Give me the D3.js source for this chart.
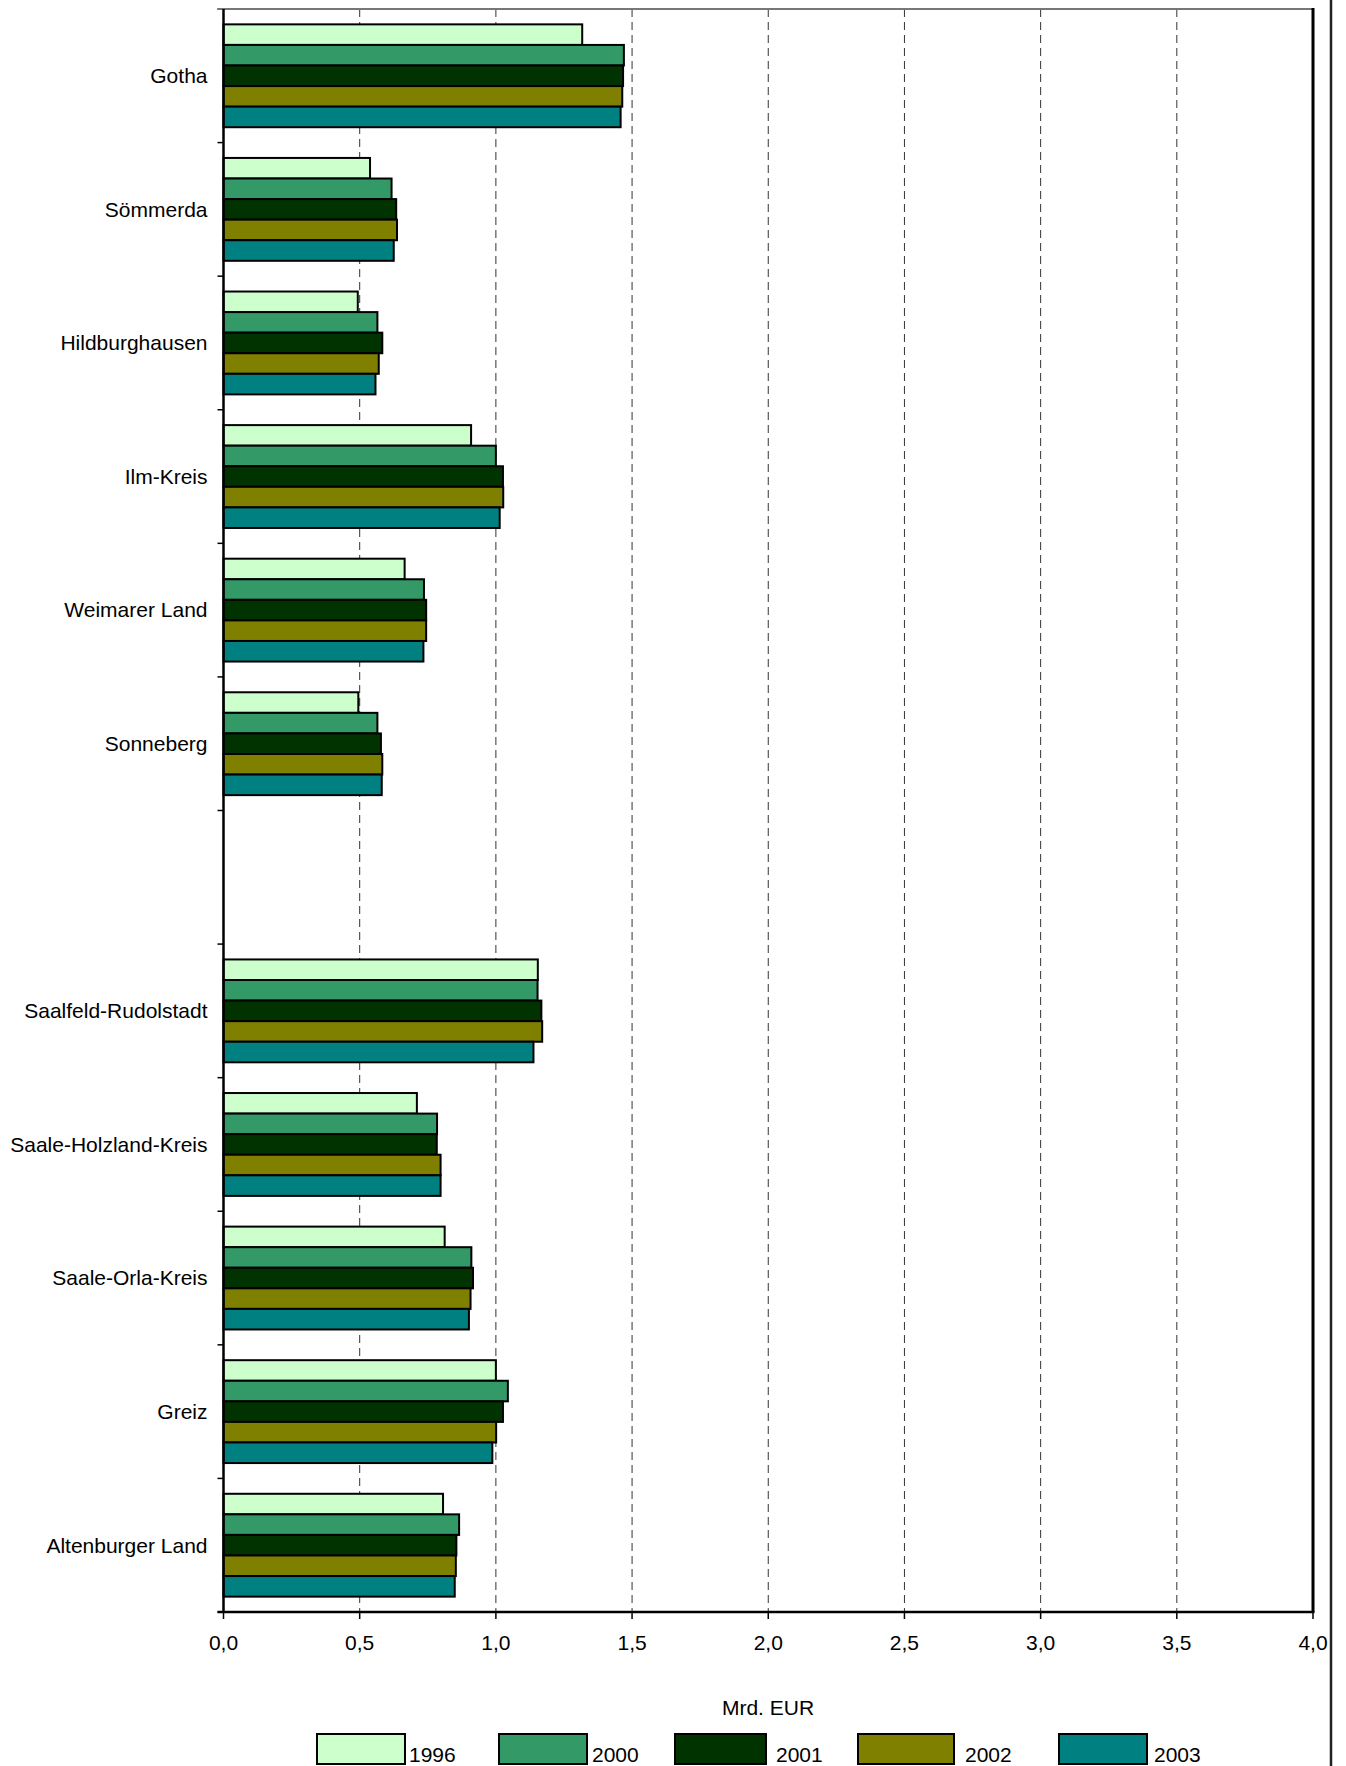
<!DOCTYPE html>
<html>
<head>
<meta charset="utf-8">
<script src="https://cdn.jsdelivr.net/npm/d3@7"></script>
<style>
  html, body { margin: 0; padding: 0; background: #fff; overflow: hidden; }
  svg { display: block; }
  text { font-family: Arial, "Liberation Sans", sans-serif; fill: #000; }
</style>
</head>
<body>
<div id="chart"></div>
<script>
// Data
const districts = [
  "Gotha", "Sömmerda", "Hildburghausen", "Ilm-Kreis", "Weimarer Land", "Sonneberg",
  "", // empty slot between the two groups
  "Saalfeld-Rudolstadt", "Saale-Holzland-Kreis", "Saale-Orla-Kreis", "Greiz", "Altenburger Land"
];
const years = ["1996", "2000", "2001", "2002", "2003"];
const values1996 = [1.317, 0.538, 0.493, 0.909, 0.665, 0.495, null, 1.154, 0.710, 0.812, 1.000, 0.806];
const values2000 = [1.470, 0.617, 0.565, 1.000, 0.736, 0.565, null, 1.153, 0.784, 0.910, 1.044, 0.865];
const values2001 = [1.467, 0.634, 0.583, 1.026, 0.744, 0.578, null, 1.167, 0.783, 0.916, 1.026, 0.855];
const values2002 = [1.464, 0.637, 0.570, 1.027, 0.744, 0.583, null, 1.170, 0.797, 0.907, 1.001, 0.853];
const values2003 = [1.458, 0.625, 0.558, 1.014, 0.734, 0.581, null, 1.138, 0.797, 0.901, 0.987, 0.849];
const xTicks = [0, 0.5, 1, 1.5, 2, 2.5, 3, 3.5, 4];
const unitLabel = "Mrd. EUR";

const seriesValues = [values1996, values2000, values2001, values2002, values2003];
const colors = ["#ccffcc", "#339966", "#003300", "#808000", "#008080"];

// Size
const width = 1346,
      height = 1766,
      margin = { top: 9, left: 223.5, right: 33, bottom: 154 },
      innerWidth = width - margin.left - margin.right,
      innerHeight = height - margin.top - margin.bottom;

// Legend layout
const legendX = [317, 499, 675, 858, 1059],
      legendBoxW = [88, 88, 91, 96, 88],
      legendGap = [4, 5, 10, 11, 7];

const svg = d3.select("#chart").append("svg")
    .attr("width", width)
    .attr("height", height);

svg.append("rect")
    .attr("width", width)
    .attr("height", height)
    .style("fill", "#fff");

// Outer frame line on the right
svg.append("line")
    .attr("x1", 1331).attr("x2", 1331)
    .attr("y1", 0).attr("y2", height)
    .style("stroke", "#222")
    .style("stroke-width", 2.5);

const g = svg.append("g")
    .attr("transform", "translate(" + margin.left + "," + margin.top + ")");

// Scales
const xScale = d3.scaleLinear()
    .domain([0, 4])
    .range([0, innerWidth]);

const yScale = d3.scaleBand()
    .domain(d3.range(districts.length))
    .range([0, innerHeight]);

const yInner = d3.scaleBand()
    .domain(years)
    .range([yScale.bandwidth() * 0.115, yScale.bandwidth() * 0.885]);

// Grid lines
g.append("g").selectAll("line")
    .data(xTicks.filter(d => d > 0 && d < 4))
  .enter().append("line")
    .attr("x1", d => xScale(d)).attr("x2", d => xScale(d))
    .attr("y1", 0).attr("y2", innerHeight)
    .style("stroke", "#333")
    .style("stroke-width", 1)
    .style("stroke-dasharray", "8 5");

// Bars
const group = g.append("g").selectAll(".group")
    .data(districts.map((name, i) => ({ name: name, i: i })))
  .enter().append("g")
    .attr("class", "group")
    .attr("transform", d => "translate(0," + yScale(d.i) + ")");

group.selectAll("rect")
    .data(d => years.map((y, k) => ({ year: y, k: k, value: seriesValues[k][d.i] })).filter(d => d.value != null))
  .enter().append("rect")
    .attr("x", 0)
    .attr("y", d => yInner(d.year))
    .attr("width", d => xScale(d.value))
    .attr("height", yInner.bandwidth())
    .style("fill", d => colors[d.k])
    .style("stroke", "#000")
    .style("stroke-width", 2);

// Category labels
g.append("g").selectAll("text")
    .data(districts.map((name, i) => ({ name: name, i: i })).filter(d => d.name))
  .enter().append("text")
    .attr("x", -16)
    .attr("y", d => yScale(d.i) + yScale.bandwidth() / 2)
    .attr("dy", "0.35em")
    .attr("text-anchor", "end")
    .style("font-size", "21px")
    .text(d => d.name);

// Left axis ticks at category boundaries
g.append("g").selectAll("line")
    .data(d3.range(districts.length + 1))
  .enter().append("line")
    .attr("x1", -6).attr("x2", 0)
    .attr("y1", d => d * yScale.step()).attr("y2", d => d * yScale.step())
    .style("stroke", "#000")
    .style("stroke-width", 1.5);

// Bottom axis ticks and labels
const xAxisG = g.append("g")
    .attr("transform", "translate(0," + innerHeight + ")");

xAxisG.selectAll("line")
    .data(xTicks)
  .enter().append("line")
    .attr("x1", d => xScale(d)).attr("x2", d => xScale(d))
    .attr("y1", 0).attr("y2", 7)
    .style("stroke", "#000")
    .style("stroke-width", 1.5);

xAxisG.selectAll("text")
    .data(xTicks)
  .enter().append("text")
    .attr("x", d => xScale(d))
    .attr("y", 38)
    .attr("text-anchor", "middle")
    .style("font-size", "21px")
    .text(d => d3.format(".1f")(d).replace(".", ","));

// Plot frame
g.append("line")
    .attr("x1", -6).attr("x2", innerWidth)
    .attr("y1", 0).attr("y2", 0)
    .style("stroke", "#777")
    .style("stroke-width", 2);
g.append("line")
    .attr("x1", innerWidth).attr("x2", innerWidth)
    .attr("y1", -1).attr("y2", innerHeight)
    .style("stroke", "#000")
    .style("stroke-width", 3);
g.append("line")
    .attr("x1", 0).attr("x2", 0)
    .attr("y1", 0).attr("y2", innerHeight)
    .style("stroke", "#000")
    .style("stroke-width", 2.5);
g.append("line")
    .attr("x1", -6).attr("x2", innerWidth + 1.5)
    .attr("y1", innerHeight).attr("y2", innerHeight)
    .style("stroke", "#000")
    .style("stroke-width", 2.5);

// Unit label
svg.append("text")
    .attr("x", 768)
    .attr("y", 1715)
    .attr("text-anchor", "middle")
    .style("font-size", "21px")
    .text(unitLabel);

// Legend
const legend = svg.append("g").selectAll("g")
    .data(years)
  .enter().append("g")
    .attr("transform", (d, i) => "translate(" + legendX[i] + ",1734)");

legend.append("rect")
    .attr("width", (d, i) => legendBoxW[i])
    .attr("height", 30)
    .style("fill", (d, i) => colors[i])
    .style("stroke", "#000")
    .style("stroke-width", 2);

legend.append("text")
    .attr("x", (d, i) => legendBoxW[i] + legendGap[i])
    .attr("y", 28)
    .style("font-size", "21px")
    .text(d => d);
</script>
</body>
</html>
